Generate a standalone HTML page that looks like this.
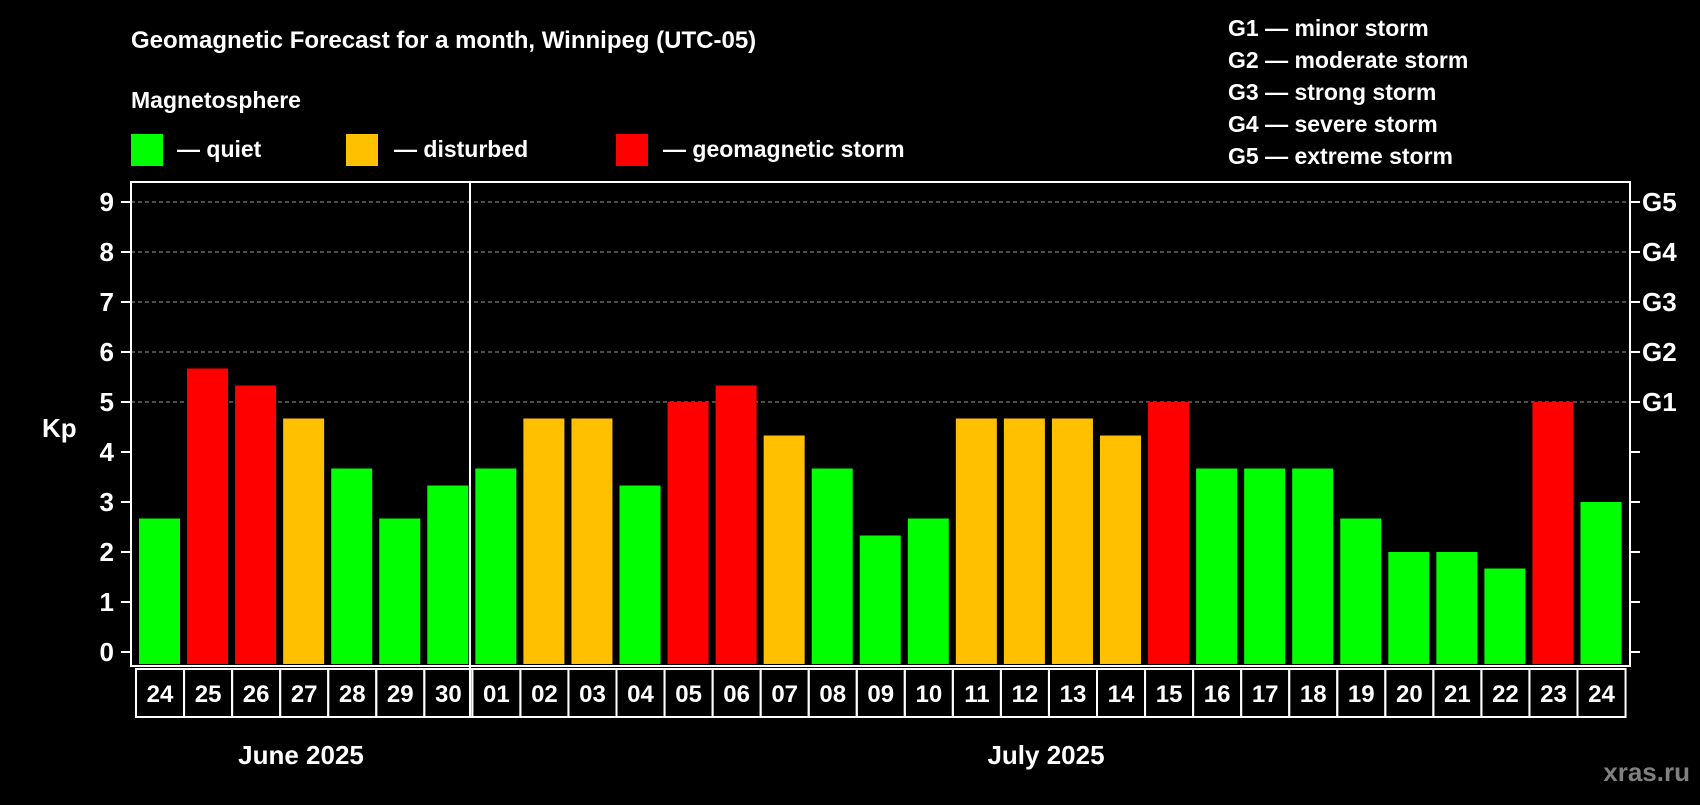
<!DOCTYPE html>
<html><head><meta charset="utf-8"><style>
body{margin:0;background:#000;width:1700px;height:800px;overflow:hidden;font-family:"Liberation Sans",sans-serif;font-weight:bold;color:#fff}
</style></head><body>
<svg id="c" width="1700" height="800" xmlns="http://www.w3.org/2000/svg" font-family="Liberation Sans, sans-serif" font-weight="bold">
<rect width="1700" height="800" fill="#000"/>
<text x="131" y="48" font-size="24" fill="#fff">Geomagnetic Forecast for a month, Winnipeg (UTC-05)</text>
<text x="131" y="108" font-size="23" fill="#fff">Magnetosphere</text>
<g><rect x="131" y="134" width="32" height="32" fill="#00ff00"/><text x="177" y="157" font-size="23" fill="#fff">— quiet</text></g>
<g><rect x="346" y="134" width="32" height="32" fill="#ffc000"/><text x="394" y="157" font-size="23" fill="#fff">— disturbed</text></g>
<g><rect x="616" y="134" width="32" height="32" fill="#ff0000"/><text x="663" y="157" font-size="23" fill="#fff">— geomagnetic storm</text></g>
<g font-size="23" fill="#fff">
<text x="1228" y="36">G1 — minor storm</text>
<text x="1228" y="68">G2 — moderate storm</text>
<text x="1228" y="100">G3 — strong storm</text>
<text x="1228" y="132">G4 — severe storm</text>
<text x="1228" y="164">G5 — extreme storm</text>
</g>
<text x="42" y="437" font-size="26" fill="#fff">Kp</text>
<text x="301" y="764" font-size="26" fill="#fff" text-anchor="middle">June 2025</text>
<text x="1046" y="764" font-size="26" fill="#fff" text-anchor="middle">July 2025</text>
<text x="1690" y="781" font-size="26" fill="#808080" text-anchor="end">xras.ru</text>
<g id="plot"></g>
</svg>
<script>
const days=["24","25","26","27","28","29","30","01","02","03","04","05","06","07","08","09","10","11","12","13","14","15","16","17","18","19","20","21","22","23","24"];
const kp=[2.67,5.67,5.33,4.67,3.67,2.67,3.33,3.67,4.67,4.67,3.33,5,5.33,4.33,3.67,2.33,2.67,4.67,4.67,4.67,4.33,5,3.67,3.67,3.67,2.67,2,2,1.67,5,3];
const yTicks=[0,1,2,3,4,5,6,7,8,9];
const gLabels=["G1","G2","G3","G4","G5"];
const NS="http://www.w3.org/2000/svg";
const L=131,R=1630,T=182,B=666,Y0=652,U=50,X0=139,P=48.05,BW=41;
const y=v=>Y0-v*U;
const x=i=>X0+i*P;
const g=document.getElementById('plot');
function mk(t,a){const e=document.createElementNS(NS,t);for(const k in a)e.setAttribute(k,a[k]);g.appendChild(e);return e;}
yTicks.forEach(v=>{
  if(v>=5){const l=mk('line',{x1:L,x2:R,y1:y(v),y2:y(v),stroke:'#999','stroke-dasharray':'4,3','stroke-width':1});
  
  }
  mk('line',{x1:L-10,x2:L,y1:y(v),y2:y(v),stroke:'#fff','stroke-width':2});
  mk('line',{x1:R,x2:R+10,y1:y(v),y2:y(v),stroke:'#fff','stroke-width':2});
  const t=mk('text',{x:114,y:y(v)+9,'font-size':26,fill:'#fff','text-anchor':'end'});t.textContent=v;
  
  
});
gLabels.forEach((s,i)=>{const t=mk('text',{x:1642,y:y(5+i)+9,'font-size':26,fill:'#fff'});t.textContent=s;
  
  });
kp.forEach((v,i)=>{
  const c=v>=5?'#ff0000':(v>=4?'#ffc000':'#00ff00');
  const r=mk('rect',{x:x(i),y:y(v),width:BW,height:Y0-y(v)+12,fill:c});
  
  
  const bx=x(i)-3;
  const b=mk('rect',{x:bx,y:669,width:P,height:48,fill:'none',stroke:'#fff','stroke-width':2});
  
  
  const t=mk('text',{x:bx+P/2,y:702,'font-size':24,fill:'#fff','text-anchor':'middle'});t.textContent=days[i];
  
  
});
mk('rect',{x:L,y:T,width:R-L,height:B-T,fill:'none',stroke:'#fff','stroke-width':2});
mk('line',{x1:470,x2:470,y1:T,y2:717,stroke:'#fff','stroke-width':2});
</script>
</body></html>
